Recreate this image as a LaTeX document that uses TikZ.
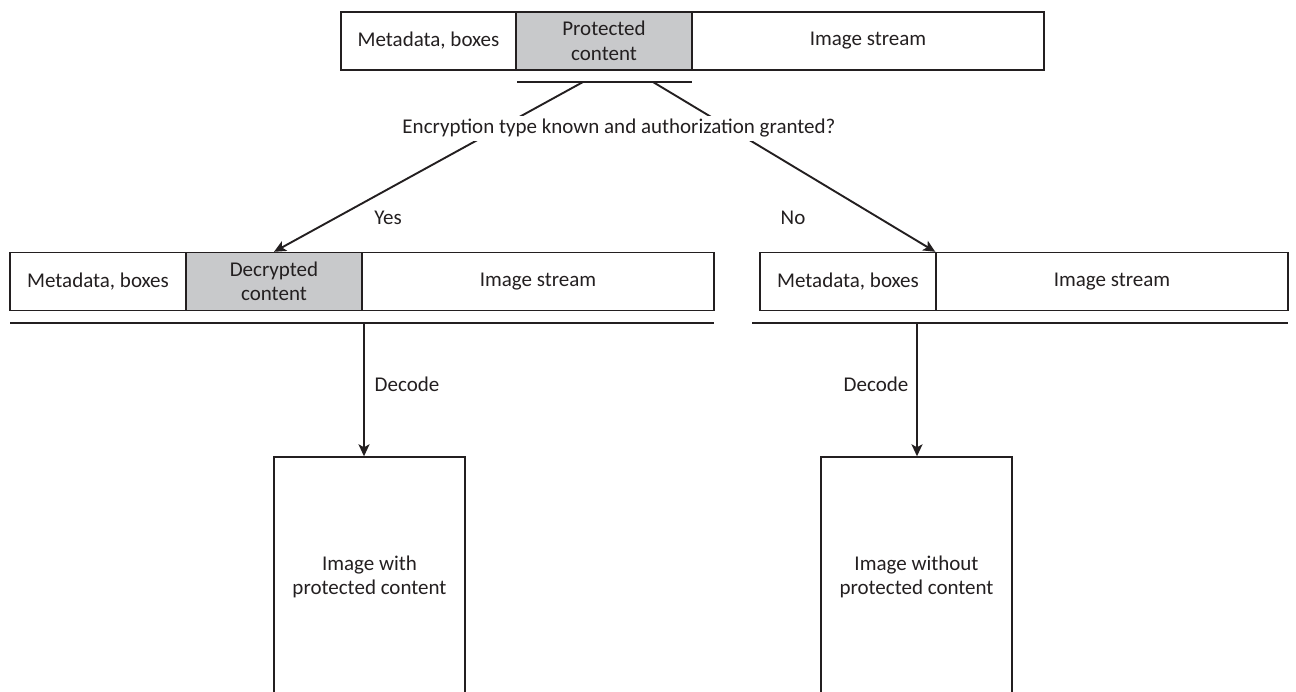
\documentclass[tikz,border=0pt]{standalone}
\usepackage{fontspec}
\setmainfont{Carlito}
\usetikzlibrary{arrows.meta}
\definecolor{ink}{RGB}{35,31,32}
\definecolor{shade}{RGB}{200,201,203}
\begin{document}
\begin{tikzpicture}[x=1pt,y=-1pt,
  txt/.style={font=\fontsize{21}{24.5}\selectfont,text=ink},
  cell/.style={txt,draw=ink,line width=1.4pt,minimum height=58pt,inner sep=0pt,align=center},
  graycell/.style={cell,fill=shade},
  bar/.style={draw=ink,line width=2.6pt},
  flow/.style={draw=ink,line width=1.9pt,-{Stealth[length=12pt,width=11pt,inset=3pt]}},
  lbl/.style={txt,inner sep=0pt},
  result/.style={txt,draw=ink,line width=1.4pt,minimum width=191pt,minimum height=240pt,inner sep=0pt,align=center}
]
\useasboundingbox (0,0) rectangle (1296,691);
\clip (0,0) rectangle (1296,691);

% top row
\node[cell,minimum width=175pt] (m0) at (428.5,41) {Metadata, boxes};
\node[graycell,minimum width=176pt] (p0) at (604,41) {Protected\\content};
\node[cell,minimum width=352pt] (s0) at (868,41) {Image stream};
\coordinate (pb1) at (517,82);
\coordinate (pb2) at (692,82);
\draw[draw=ink,line width=2pt] (pb1) -- (pb2);
\coordinate (qa) at (583,82);
\coordinate (qb) at (653,82);

% left row
\node[cell,minimum width=176pt] (m1) at (98,281.5) {Metadata, boxes};
\node[graycell,minimum width=176pt] (d1) at (274,281.5) {Decrypted\\content};
\node[cell,minimum width=352pt] (s1) at (538,281.5) {Image stream};
\coordinate (lb1) at (10,323);
\coordinate (lb2) at (714,323);
\draw[bar] (lb1) -- (lb2);
\coordinate (ld) at (364,323);

% right row
\node[cell,minimum width=176pt] (m2) at (848,281.5) {Metadata, boxes};
\node[cell,minimum width=352pt] (s2) at (1112,281.5) {Image stream};
\coordinate (rb1) at (752,323);
\coordinate (rb2) at (1288,323);
\draw[bar] (rb1) -- (rb2);
\coordinate (rd) at (917,323);

% results
\node[result] (r1) at (369.5,577) {Image with\\protected content};
\node[result] (r2) at (916.5,577) {Image without\\protected content};

% connectors
\draw[flow] (qa) -- (d1.north);
\draw[flow] (qb) -- (s2.north west);
\node[lbl,fill=white,inner sep=3pt] (q) at (619,128.5) {Encryption type known and authorization granted?};
\node[lbl] (yes) at (388,218) {Yes};
\node[lbl] (no) at (793,218) {No};

\draw[flow] (ld) -- (ld |- r1.north);
\draw[flow] (rd) -- (rd |- r2.north);
\node[lbl] (dec1) at (407,384) {Decode};
\node[lbl] (dec2) at (876,384) {Decode};
\end{tikzpicture}
\end{document}
